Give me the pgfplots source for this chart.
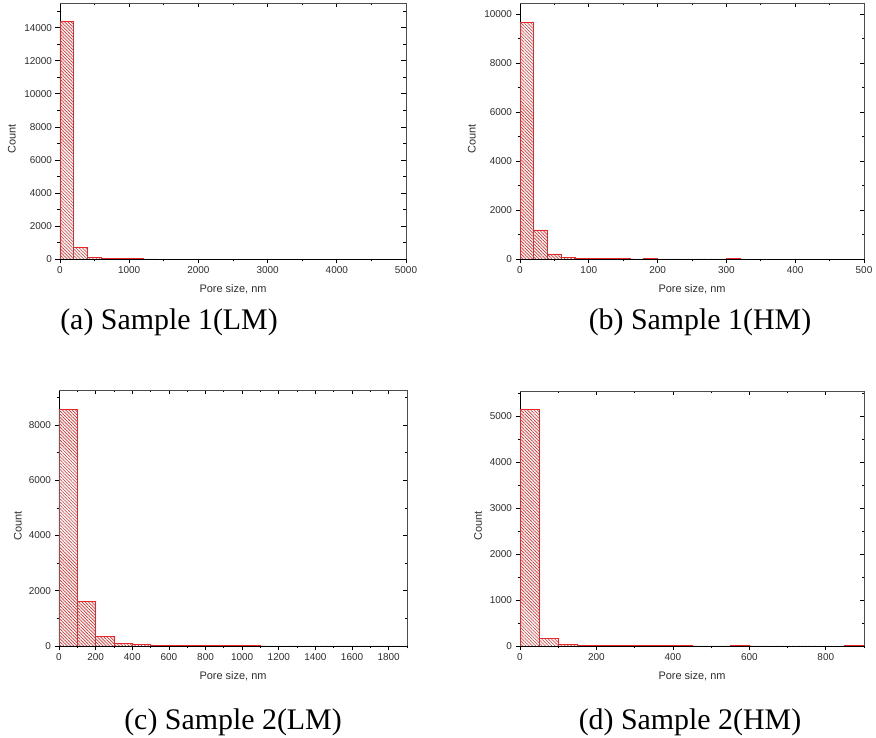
\documentclass[border=0pt]{standalone}
\usepackage{fontspec}
\setmainfont{Liberation Sans}
\newfontfamily\capfont{Liberation Serif}
\usepackage{pgfplots}
\pgfplotsset{compat=1.18}
\usetikzlibrary{patterns.meta}

\definecolor{hred}{RGB}{232,40,40}
\definecolor{txtgray}{RGB}{45,45,45}

\pgfplotsset{
  histbase/.style={
    scale only axis,
    xmin=0, ymin=0,
    scaled ticks=false,
    /pgf/number format/assume math mode=true,
    /pgf/number format/set thousands separator={},
    minor x tick num=1, minor y tick num=1,
    major tick length=4.5bp, minor tick length=2.5bp,
    every tick/.style={black, line width=0.7bp},
    ticklabel style={font=\fontsize{10}{12}\selectfont, text=txtgray},
  },
  histmain/.style={
    histbase,
    axis x line*=bottom, axis y line*=left,
    tick align=outside,
    axis line style={black, line width=0.9bp},
    xlabel={Pore size, nm}, ylabel={Count},
    label style={font=\fontsize{11}{13}\selectfont, text=txtgray},
    xlabel style={at={(axis description cs:0.5,-0.117)}, anchor=center},
  },
  histframe/.style={
    histbase,
    axis x line*=top, axis y line*=right,
    tick align=inside,
    xticklabels={}, yticklabels={},
    axis line style={black!70, line width=0.8bp},
  },
  bars/.style={
    ybar interval, draw=hred, line width=0.8bp,
    pattern={Lines[angle=-45, distance=2.3bp, line width=0.65bp]},
    pattern color=hred,
  },
}

\begin{document}
\begin{tikzpicture}
\path[use as bounding box] (0,0) rectangle (876bp,738bp);

% (a) Sample 1 (LM), bins of 200 nm
\begin{axis}[histmain, at={(60bp,479bp)}, anchor=south west,
  width=346bp, height=256bp, xmax=5000, ymax=15500,
  xtick distance=1000, ytick distance=2000,
  ylabel style={at={(axis description cs:-0.139,0.47)}, anchor=center}]
\addplot[bars] coordinates {
  (0,14380) (200,710) (400,105) (600,35) (800,20) (1000,12) (1200,0) (1400,0)
};
\end{axis}
\begin{axis}[histframe, at={(60bp,479bp)}, anchor=south west,
  width=346bp, height=256bp, xmax=5000, ymax=15500,
  xtick distance=1000, ytick distance=2000]
\end{axis}

% (b) Sample 1 (HM), bins of 20 nm
\begin{axis}[histmain, at={(520bp,479bp)}, anchor=south west,
  width=344bp, height=256bp, xmax=500, ymax=10450,
  xtick distance=100, ytick distance=2000,
  ylabel style={at={(axis description cs:-0.14,0.47)}, anchor=center}]
\addplot[bars] coordinates {
  (0,9660) (20,1185) (40,205) (60,75) (80,30) (100,15) (120,10) (140,5)
  (160,3) (180,8) (200,3) (220,2) (240,1) (260,1) (280,1) (300,5) (320,0)
};
\end{axis}
\begin{axis}[histframe, at={(520bp,479bp)}, anchor=south west,
  width=344bp, height=256bp, xmax=500, ymax=10450,
  xtick distance=100, ytick distance=2000]
\end{axis}

% (c) Sample 2 (LM), bins of 100 nm
\begin{axis}[histmain, at={(59bp,92bp)}, anchor=south west,
  width=348bp, height=256bp, xmax=1900, ymax=9270,
  xtick distance=200, ytick distance=2000,
  ylabel style={at={(axis description cs:-0.118,0.47)}, anchor=center}]
\addplot[bars] coordinates {
  (0,8580) (100,1625) (200,340) (300,97) (400,45) (500,20) (600,15)
  (700,6) (800,5) (900,4) (1000,4) (1100,3) (1200,3) (1300,2) (1400,3)
  (1500,2) (1600,2) (1700,2) (1800,2) (1900,0)
};
\end{axis}
\begin{axis}[histframe, at={(59bp,92bp)}, anchor=south west,
  width=348bp, height=256bp, xmax=1900, ymax=9270,
  xtick distance=200, ytick distance=2000]
\end{axis}

% (d) Sample 2 (HM), bins of 50 nm
\begin{axis}[histmain, at={(520bp,92bp)}, anchor=south west,
  width=344bp, height=255bp, xmax=900, ymax=5545,
  xtick distance=200, ytick distance=1000,
  ylabel style={at={(axis description cs:-0.122,0.47)}, anchor=center}]
\addplot[bars] coordinates {
  (0,5145) (50,167) (100,37) (150,10) (200,8) (250,6) (300,5) (350,4)
  (400,4) (450,0) (500,0) (550,3) (600,0) (650,0) (700,0) (750,0)
  (800,0) (850,3) (900,0)
};
\end{axis}
\begin{axis}[histframe, at={(520bp,92bp)}, anchor=south west,
  width=344bp, height=255bp, xmax=900, ymax=5545,
  xtick distance=200, ytick distance=1000]
\end{axis}

% panel captions
\begin{scope}[every node/.style={font=\capfont\fontsize{30}{36}\selectfont, anchor=base, inner sep=0pt}]
  \node at (169bp,408bp) {(a) Sample 1(LM)};
  \node at (700bp,408bp) {(b) Sample 1(HM)};
  \node at (233bp,9bp)   {(c) Sample 2(LM)};
  \node at (690bp,9bp)   {(d) Sample 2(HM)};
\end{scope}
\end{tikzpicture}
\end{document}
